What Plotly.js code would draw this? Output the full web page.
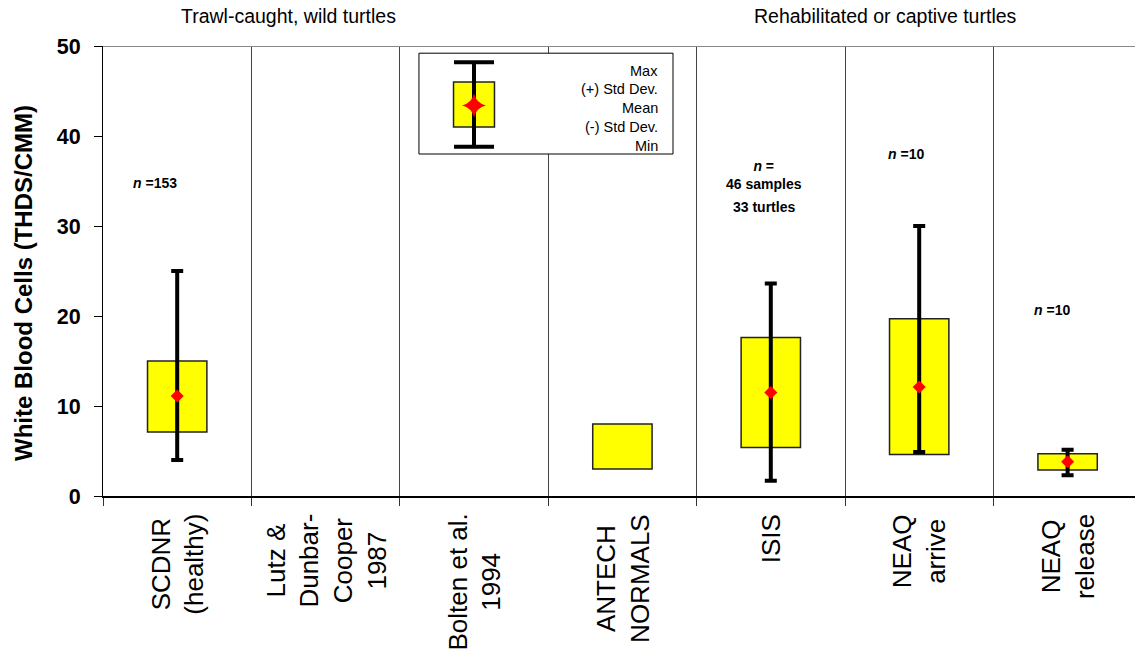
<!DOCTYPE html>
<html>
<head>
<meta charset="utf-8">
<script src="https://cdn.plot.ly/plotly-3.0.1.min.js"></script>
<style>
  html, body { margin: 0; padding: 0; background: #fff; overflow: hidden; }
  #chart { width: 1135px; height: 661px; }
</style>
</head>
<body>
<div id="chart"></div>
<script>
// ---- data ----
const categories = ["SCDNR<br>(healthy)", "Lutz &<br>Dunbar-<br>Cooper<br>1987", "Bolten et al.<br>1994",
                    "ANTECH<br>NORMALS", "ISIS", "NEAQ<br>arrive", "NEAQ<br>release"];
const maxVals  = [25.0, null, null, null, 23.6, 30.0, 5.15];
const sdHigh   = [15.0, null, null, 8.0, 17.6, 19.7, 4.7];
const meanVals = [11.1, null, null, null, 11.5, 12.1, 3.8];
const sdLow    = [7.1,  null, null, 3.0, 5.4,  4.6,  2.9];
const minVals  = [4.0,  null, null, null, 1.7, 4.9, 2.3];

const yTitle = "White Blood Cells (THDS/CMM)";
const groupLabels = ["Trawl-caught, wild turtles", "Rehabilitated or captive turtles"];
const keyLabels = ["Max", "(+) Std Dev.", "Mean", "(-) Std Dev.", "Min"];
const keyValues = [48.2, 46.0, 43.4, 41.0, 38.8];

const notes = ["<i>n</i> =153", "<i>n</i> =<br>46 samples", "33 turtles", "<i>n</i> =10", "<i>n</i> =10"];

// ---- derived ----
const xs = categories.map((c, i) => i);
const boxH = sdHigh.map((v, i) => (v == null || sdLow[i] == null) ? null : v - sdLow[i]);
const errPlus = maxVals.map((v, i) => (v == null || meanVals[i] == null) ? null : v - meanVals[i]);
const errMinus = minVals.map((v, i) => (v == null || meanVals[i] == null) ? null : meanVals[i] - v);
const bounds = categories.map((c, i) => i - 0.5).concat([categories.length - 0.5]);

const FONT = "Arial, 'Liberation Sans', sans-serif";

const traces = [
  { type: "bar", x: xs, y: boxH, base: sdLow, width: 0.4,
    marker: { color: "#FFFF00", line: { color: "#222", width: 1.5 } },
    hoverinfo: "skip", showlegend: false },
  { type: "scatter", mode: "markers", x: xs, y: meanVals,
    marker: { symbol: "diamond", color: "#FF0000", size: 10 },
    error_y: { type: "data", symmetric: false, array: errPlus, arrayminus: errMinus,
               color: "#000", thickness: 4, width: 6 },
    showlegend: false },
  // key glyph
  { type: "bar", x: [2], y: [keyValues[1] - keyValues[3]], base: [keyValues[3]], width: [0.276],
    marker: { color: "#FFFF00", line: { color: "#222", width: 1.5 } },
    hoverinfo: "skip", showlegend: false },
  { type: "scatter", mode: "markers", x: [2], y: [keyValues[2]],
    marker: { symbol: "star-diamond", color: "#FF0000", size: 17 },
    error_y: { type: "data", symmetric: false, array: [keyValues[0] - keyValues[2]],
               arrayminus: [keyValues[2] - keyValues[4]], color: "#000", thickness: 4, width: 20 },
    showlegend: false }
];

const annotations = [];
// category labels (rotated, centered lines)
categories.forEach((c, i) => {
  annotations.push({ text: c, x: i, xref: "x", y: 0, yref: "paper", yanchor: "top", xanchor: "center",
    yshift: -16, textangle: -90, align: "center", showarrow: false,
    font: { family: FONT, size: 26, color: "#000" } });
});
// sample size notes
const notePos = [[-0.15, 34.8], [3.954, 35.7], [3.954, 32.1], [4.91, 38.0], [5.895, 20.7]];
notes.forEach((t, i) => {
  annotations.push({ text: "<b>" + t + "</b>", x: notePos[i][0], y: notePos[i][1], xref: "x", yref: "y",
    showarrow: false, align: "center", font: { family: FONT, size: 14, color: "#000" } });
});
// group headers
annotations.push({ text: groupLabels[0], x: 0.747, xref: "x", y: 1 + 30 / 450, yref: "paper",
  yanchor: "middle", showarrow: false, font: { family: FONT, size: 19.5, color: "#000" } });
annotations.push({ text: groupLabels[1], x: 4.77, xref: "x", y: 1 + 30 / 450, yref: "paper",
  yanchor: "middle", showarrow: false, font: { family: FONT, size: 19.5, color: "#000" } });
// key labels
keyLabels.forEach((t, i) => {
  annotations.push({ text: t, x: 3.253, xref: "x", xanchor: "right", y: 47.26 - i * 2.09, yref: "y",
    yanchor: "middle", showarrow: false, font: { family: FONT, size: 14.5, color: "#000" } });
});
// y axis title
annotations.push({ text: "<b>" + yTitle + "</b>", x: -80 / 1032, xref: "paper", xanchor: "center",
  y: (496 - 283) / 450, yref: "paper", yanchor: "middle", textangle: -90, showarrow: false,
  font: { family: FONT, size: 24, color: "#000" } });

const layout = {
  width: 1135, height: 661,
  margin: { l: 103, r: 0, t: 46, b: 165 },
  paper_bgcolor: "#fff", plot_bgcolor: "#fff",
  barmode: "overlay",
  font: { family: FONT, color: "#000" },
  xaxis: {
    range: [-0.5, -0.5 + 1032 / 148.4], tickmode: "array", tickvals: bounds,
    showticklabels: false, ticks: "outside", ticklen: 8, tickcolor: "#333", tickwidth: 1,
    showgrid: true, gridcolor: "#444", gridwidth: 1, zeroline: false,
    showline: true, linecolor: "#000", linewidth: 2, fixedrange: true
  },
  yaxis: {
    range: [0, 50], tickmode: "array", tickvals: [0, 10, 20, 30, 40, 50],
    ticks: "outside", ticklen: 8, tickcolor: "#000", tickwidth: 1, ticklabelstandoff: 9,
    tickfont: { family: FONT, size: 21.5, color: "#000", weight: "bold" },
    showgrid: false, zeroline: false, showline: true, linecolor: "#000", linewidth: 1,
    automargin: false, fixedrange: true
  },
  shapes: [
    { type: "line", xref: "paper", x0: 0, x1: 1, yref: "y", y0: 50, y1: 50,
      line: { color: "#888", width: 2 } },
    { type: "rect", xref: "x", yref: "y", x0: 1.629, x1: 3.341, y0: 38.0, y1: 49.2,
      fillcolor: "#fff", line: { color: "#000", width: 1 }, layer: "between" }
  ],
  annotations: annotations,
  showlegend: false
};

Plotly.newPlot("chart", traces, layout, { displayModeBar: false, staticPlot: true });
</script>
</body>
</html>
